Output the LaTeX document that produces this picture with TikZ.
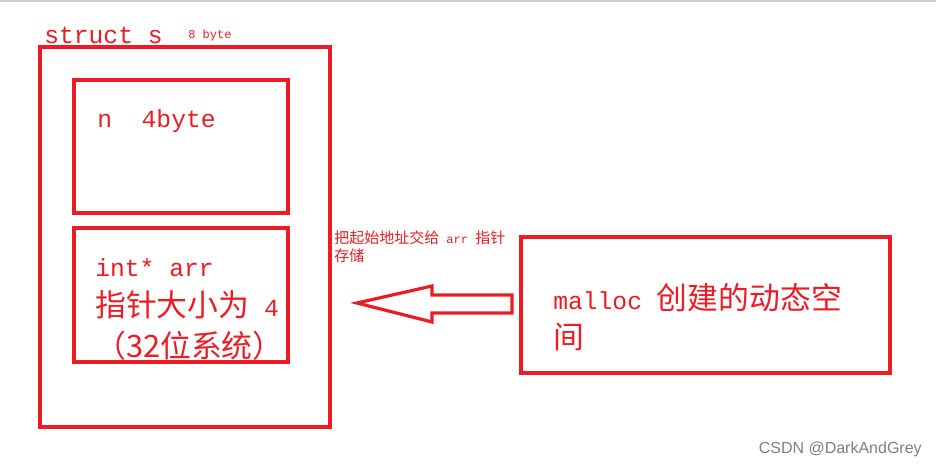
\documentclass[tikz,border=0pt]{standalone}
\usepackage{fontspec}
\setmainfont{Liberation Mono}
\newfontfamily\cjk[Scale=1.25]{Noto Sans CJK SC}
\newfontfamily\wm{Liberation Sans}
\definecolor{rd}{RGB}{237,28,36}
\begin{document}
\begin{tikzpicture}[x=0.75pt,y=-0.75pt,
  box/.style={draw=rd,line width=2.6pt},
  lbl/.style={text=rd,anchor=west,inner sep=0pt}]
\useasboundingbox[fill=white] (0,0) rectangle (936,470);
\draw[gray!40,line width=1pt] (0,1) -- (936,1);
\node[lbl,font=\fontsize{18.5}{18.5}\selectfont] (t) at (44,35) {struct s};
\node[lbl,font=\fontsize{9}{9}\selectfont] (t2) at (188,35) {8 byte};
\draw[box] (40,47) rectangle (330,427);
\draw[box] (74,80) rectangle (288,213);
\node[lbl,font=\fontsize{18.5}{18.5}\selectfont] (n) at (97,121) {n\ \ 4byte};
\draw[box] (74,228) rectangle (288,362);
\node[lbl,font=\fontsize{18.5}{18.5}\selectfont] (a1) at (95,268) {int* arr};
\node[lbl,font=\fontsize{18.5}{18.5}\selectfont] (a2) at (95,305) {{\cjk 指针大小为} 4};
\node[lbl,font=\fontsize{18.5}{18.5}\selectfont\cjk] (a3) at (95,346) {（32位系统）};
\draw[box] (521,237) rectangle (890,373);
\node[lbl,font=\fontsize{18.5}{18.5}\selectfont] (m1) at (553,298) {malloc {\cjk 创建的动态空}};
\node[lbl,font=\fontsize{18.5}{18.5}\selectfont\cjk] (m2) at (553,337) {间};
\node[lbl,font=\fontsize{9}{9}\selectfont] (c1) at (334,238) {{\cjk 把起始地址交给} arr {\cjk 指针}};
\node[lbl,font=\fontsize{9}{9}\selectfont\cjk] (c2) at (334,256) {存储};
\draw[rd,line width=2.4pt,line join=miter] (357,303) -- (432,286) -- (432,295) -- (512,295) -- (512,313) -- (432,313) -- (432,322) -- cycle;
\node[anchor=east,text=gray,font=\fontsize{12}{12}\selectfont\wm,inner sep=0pt] (w) at (922,449) {CSDN @DarkAndGrey};
\end{tikzpicture}
\end{document}
